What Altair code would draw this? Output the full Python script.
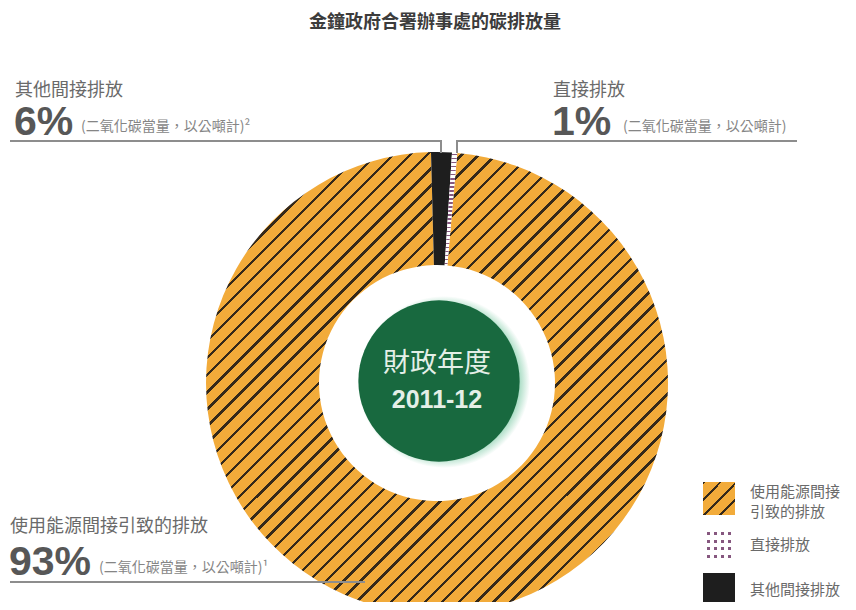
import math
import altair as alt
import pandas as pd

# ---------------- data ----------------
title_text = "金鐘政府合署辦事處的碳排放量"
categories = ["其他間接排放", "直接排放", "使用能源間接引致的排放"]   # clockwise from the top
drawn_share = [1.45, 0.36, 98.19]   # slice sizes as they are drawn in the picture
pct_labels = ["6%", "1%", "93%"]
footnote_marks = ["²", "", "¹"]
unit_note = "(二氧化碳當量，以公噸計)"
centre_lines = ["財政年度", "2011-12"]
legend_labels = ["使用能源間接\n引致的排放", "直接排放", "其他間接排放"]

# ---------------- styling ----------------
ORANGE = "#F2AB3A"
HATCH = "#35291a"
BLACK = "#1e1e1e"
DOT = "#86577f"
GREEN = "#18693F"
GREY_TXT = "#6a6a6a"
NOTE_TXT = "#858585"
PCT_TXT = "#575757"
LINE = "#8d8d8d"
CJK = "Noto Sans CJK TC"
LAT = "Liberation Sans"

CX, CY = 429, 375          # ring centre (chart pixels)
R_OUT, R_IN = 231, 118
START = -0.026             # ring starts just left of 12 o'clock

df = pd.DataFrame({"cat": categories, "share": drawn_share,
                   "ord": list(range(len(categories)))})
one = pd.DataFrame({"a": [0]})

theta_scale = alt.Scale(domain=[0, float(sum(drawn_share))],
                        range=[2 * math.pi + START, 4 * math.pi + START])


def stripe_stops(n, on_lo, on_hi, base, ink):
    stops = []
    p = 1.0 / n
    for i in range(n):
        a = i * p
        pts = [(a, base), (a + on_lo * p, base), (a + on_lo * p, ink),
               (a + on_hi * p, ink), (a + on_hi * p, base), (a + p, base)]
        for o, c in pts:
            stops.append(alt.GradientStop(offset=round(min(1.0, o), 6), color=c))
    return stops


def lin(stops, x2, y2):
    return alt.LinearGradient(gradient="linear", stops=stops, x1=0, y1=0, x2=x2, y2=y2)


def slice_layer(cat, **mark):
    return (alt.Chart(df)
            .transform_stack(stack="share", groupby=[], as_=["s0", "s1"],
                             sort=[alt.SortField("ord", order="ascending")])
            .transform_filter(alt.datum.cat == cat)
            .mark_arc(radius=R_OUT, radius2=R_IN, **mark)
            .encode(theta=alt.Theta("s0:Q", scale=theta_scale),
                    theta2="s1:Q",
                    x=alt.value(CX), y=alt.value(CY)))


def txt(text, x, y, size, color, font=CJK, weight="normal", align="left",
        baseline="middle", **kw):
    return (alt.Chart(one)
            .mark_text(align=align, baseline=baseline, fontSize=size, color=color,
                       font=font, fontWeight=weight, **kw)
            .encode(x=alt.value(x), y=alt.value(y), text=alt.value(text)))


def rule(x1, y1, x2, y2, color=LINE, width=2):
    return (alt.Chart(one).mark_rule(color=color, strokeWidth=width)
            .encode(x=alt.value(x1), x2=alt.value(x2), y=alt.value(y1), y2=alt.value(y2)))


def rect(x1, y1, x2, y2, fill):
    return (alt.Chart(one).mark_rect(fill=fill, opacity=1)
            .encode(x=alt.value(x1), x2=alt.value(x2), y=alt.value(y1), y2=alt.value(y2)))


layers = []

# ring slices
hatch_main = lin(stripe_stops(54, 0.0, 0.2, ORANGE, HATCH), 1, 1)
layers.append(slice_layer(categories[2], fill=hatch_main))
layers.append(slice_layer(categories[0], fill=BLACK))
layers.append(slice_layer(categories[1], fill=lin(stripe_stops(28, 0.35, 0.7, "#ffffff", DOT), 0, 1)))

# centre disc with soft glow
glow = alt.RadialGradient(gradient="radial", x1=0.5, y1=0.5, r1=0, x2=0.5, y2=0.5, r2=0.5,
                          stops=[alt.GradientStop(offset=0, color="#4ea67b"),
                                 alt.GradientStop(offset=0.86, color="#9fd8bd"),
                                 alt.GradientStop(offset=1, color="#ffffff")])
layers.append(alt.Chart(one).mark_circle(size=math.pi * 97 ** 2, fill=glow, opacity=1)
              .encode(x=alt.value(CX + 7), y=alt.value(CY - 1)))
layers.append(alt.Chart(one).mark_circle(size=math.pi * 91 ** 2, fill=GREEN, opacity=1)
              .encode(x=alt.value(CX + 2), y=alt.value(CY - 2)))
layers.append(txt(centre_lines[0], CX, 356, 27, "#e4efe7", align="center"))
layers.append(txt(centre_lines[1], CX, 392, 25, "#e4efe7", font=LAT, weight="bold", align="center"))

# title
layers.append(txt(title_text, 427, 15, 18, "#3c3c3c", weight="bold", align="center"))

# leader lines
layers.append(rule(2, 133, 434, 133))
layers.append(rule(433, 132, 433, 145))
layers.append(rule(449, 133, 789, 133))
layers.append(rule(449, 132, 449, 145))
layers.append(rule(2, 574, 357, 574))

# labels: other indirect (top-left)
layers.append(txt(categories[0], 7, 83, 18, GREY_TXT))
layers.append(txt(pct_labels[0], 6, 127, 41, PCT_TXT, font=LAT, weight="bold", baseline="alphabetic"))
layers.append(txt(unit_note + footnote_marks[0], 73, 119, 14, NOTE_TXT))
# direct (top-right)
layers.append(txt(categories[1], 545, 83, 18, GREY_TXT))
layers.append(txt(pct_labels[1], 544, 127, 41, PCT_TXT, font=LAT, weight="bold", baseline="alphabetic"))
layers.append(txt(unit_note + footnote_marks[1], 615, 119, 14, NOTE_TXT))
# energy indirect (bottom-left)
layers.append(txt(categories[2], 2, 519, 18, GREY_TXT))
layers.append(txt(pct_labels[2], 1, 567, 41, PCT_TXT, font=LAT, weight="bold", baseline="alphabetic"))
layers.append(txt(unit_note + footnote_marks[2], 91, 560, 14, NOTE_TXT))

# legend
layers.append(rect(695, 474, 727, 507, lin(stripe_stops(4, 0.0, 0.18, ORANGE, HATCH), 1, 1)))
layers.append(rect(697, 522, 725, 552, lin(stripe_stops(4, 0.3, 0.7, "#ffffff", DOT), 0, 1)))
layers.append(rect(697, 522, 725, 552, lin(stripe_stops(4, 0.3, 0.7, "#ffffff", "rgba(255,255,255,0)"), 1, 0)))
layers.append(rect(695, 565, 727, 599, BLACK))
layers.append(txt(legend_labels[0], 742, 484, 15, GREY_TXT, baseline="middle", lineBreak="\n", lineHeight=20))
layers.append(txt(legend_labels[1], 742, 537, 15, GREY_TXT))
layers.append(txt(legend_labels[2], 742, 582, 15, GREY_TXT))

chart = (alt.layer(*layers)
         .properties(width=840, height=594, padding=0, autosize="none", background="white")
         .configure_view(strokeWidth=0))

chart.save("out.html", embed_options={"renderer": "svg", "actions": False})
